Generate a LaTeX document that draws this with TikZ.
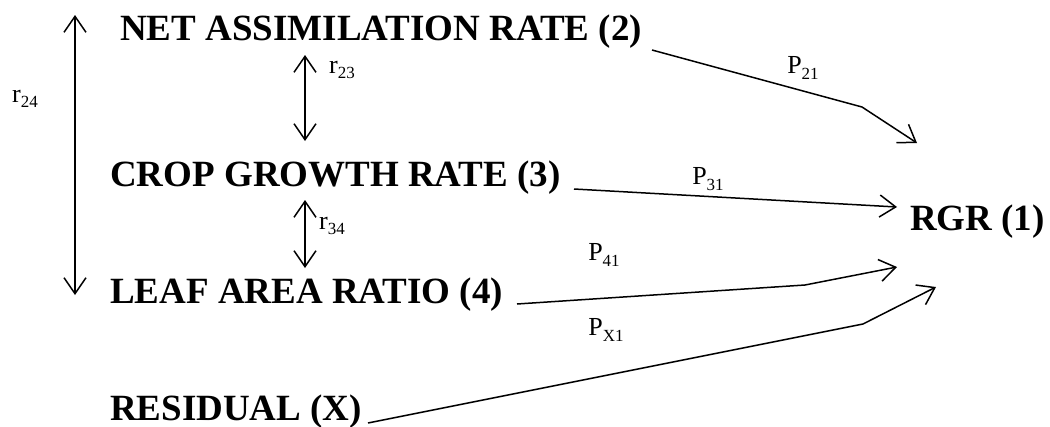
\documentclass[tikz,border=0pt]{standalone}
\usepackage{fontspec}
\setmainfont{Liberation Serif}
\usetikzlibrary{arrows.meta}
\newcommand{\mysub}[1]{\raisebox{-0.22em}{\fontsize{17}{17}\selectfont #1}}
\tikzset{
  big/.style={font=\fontsize{37}{40}\selectfont\bfseries, inner sep=0pt, anchor=base west},
  lab/.style={font=\fontsize{26}{28}\selectfont, inner sep=0pt},
  conn/.style={line width=1.5pt, -{Straight Barb[length=16pt,width=22pt,line width=1.5pt]}},
  dconn/.style={line width=1.5pt, {Straight Barb[length=16pt,width=22pt,line width=1.5pt]}-{Straight Barb[length=16pt,width=22pt,line width=1.5pt]}}
}
\begin{document}
\begin{tikzpicture}[x=1pt,y=-1pt]
\useasboundingbox (0,0) rectangle (1050,426);
\fill[white] (0,0) rectangle (1050,426);
% main nodes
\node[big] (n2) at (120,40) {NET ASSIMILATION RATE (2)};
\node[big] (n3) at (110,186) {CROP GROWTH RATE (3)};
\node[big] (n4) at (110,303) {LEAF AREA RATIO (4)};
\node[big] (nx) at (110,420) {RESIDUAL (X)};
\node[big] (n1) at (910,230) {RGR (1)};
% correlation arrows
\coordinate (a24t) at (75,15);
\coordinate (a24b) at (75,295);
\coordinate (a23t) at (305,55);
\coordinate (a23b) at (305,141);
\coordinate (a34t) at (305,200);
\coordinate (a34b) at (305,268);
\draw[dconn] (a24t) -- (a24b);
\draw[dconn] (a23t) -- (a23b);
\draw[dconn] (a34t) -- (a34b);
\node[lab] (r24) at (25,99) {r\mysub{24}};
\node[lab, anchor=west] (r23) at (329,70) {r\mysub{23}};
\node[lab, anchor=west] (r34) at (319,226) {r\mysub{34}};
% path coefficients
\coordinate (s21) at (652,50);
\coordinate (k21) at (862,107);
\coordinate (t21) at (917,143);
\coordinate (s31) at (574,189);
\coordinate (t31) at (897,207);
\coordinate (s41) at (517,304);
\coordinate (k41) at (805,285);
\coordinate (t41) at (897,267);
\coordinate (sx1) at (368,423);
\coordinate (kx1) at (863,324);
\coordinate (tx1) at (936,287);
\draw[conn] (s21) -- (k21) -- (t21);
\draw[conn] (s31) -- (t31);
\draw[conn] (s41) -- (k41) -- (t41);
\draw[conn] (sx1) -- (kx1) -- (tx1);
\node[lab] (p21) at (803,68) {P\mysub{21}};
\node[lab] (p31) at (708,179) {P\mysub{31}};
\node[lab] (p41) at (604,255) {P\mysub{41}};
\node[lab] (px1) at (606,330) {P\mysub{X1}};
\end{tikzpicture}
\end{document}
